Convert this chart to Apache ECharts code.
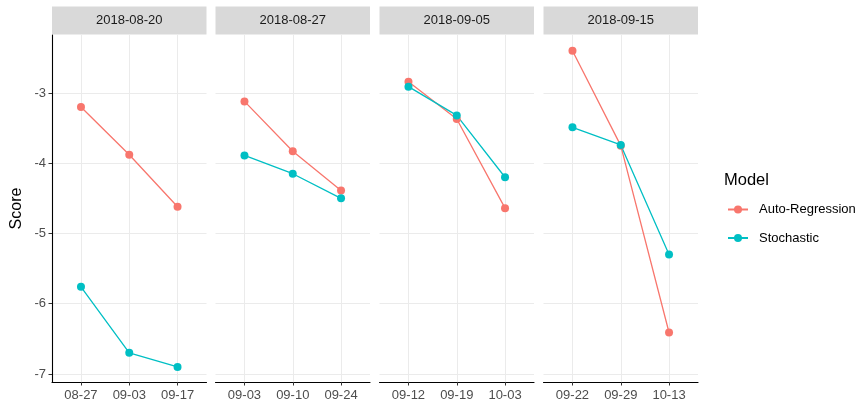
<!DOCTYPE html>
<html>
<head>
<meta charset="utf-8">
<script src="https://cdn.jsdelivr.net/npm/echarts@6/dist/echarts.min.js"></script>
<style>
  html, body { margin: 0; padding: 0; background: #fff; }
  #chart { width: 862px; height: 404px; }
</style>
</head>
<body>
<div id="chart"></div>
<script>
// facet titles (train dates) and x tick labels per facet
const panels = ['2018-08-20', '2018-08-27', '2018-09-05', '2018-09-15']
const xLabels = [
  ['08-27', '09-03', '09-17'],
  ['09-03', '09-10', '09-24'],
  ['09-12', '09-19', '10-03'],
  ['09-22', '09-29', '10-13']
]
const yTicks = [-7, -6, -5, -4, -3]

// scores per facet
const autoRegression = [
  [-3.20, -3.88, -4.62],
  [-3.12, -3.83, -4.39],
  [-2.84, -3.37, -4.64],
  [-2.40, -3.75, -6.41]
]
const stochastic = [
  [-5.76, -6.70, -6.90],
  [-3.89, -4.15, -4.50],
  [-2.91, -3.32, -4.20],
  [-3.49, -3.74, -5.30]
]

const FONT = '"Liberation Sans", Arial, sans-serif'
const COLORS = { 'Auto-Regression': '#F8766D', 'Stochastic': '#00BFC4' }

// layout of the facets
const panelLefts = [52, 215.5, 379.5, 543.5]
const panelWidth = 154.5
const panelTop = 35
const panelHeight = 347

const chart = echarts.init(document.getElementById('chart'), null, { renderer: 'canvas' })

const grids = panelLefts.map(l => ({ left: l, top: panelTop, width: panelWidth, height: panelHeight }))

const xAxes = panels.map((p, i) => ({
  type: 'value',
  gridIndex: i,
  min: 0.4,
  max: 3.6,
  axisLine: { show: true, onZero: false, lineStyle: { color: '#000', width: 1.1 } },
  axisTick: { show: true, length: 3.5, customValues: [1, 2, 3], lineStyle: { color: '#333' } },
  axisLabel: {
    customValues: [1, 2, 3],
    formatter: v => xLabels[i][Math.round(v) - 1],
    color: '#4D4D4D',
    fontSize: 13,
    fontFamily: FONT,
    margin: 7
  },
  splitLine: { show: true, lineStyle: { color: '#EBEBEB', width: 1 } }
}))

const yAxes = panels.map((p, i) => ({
  type: 'value',
  gridIndex: i,
  min: -7.115,
  max: -2.175,
  axisLine: { show: i === 0, onZero: false, lineStyle: { color: '#000', width: 1.1 } },
  axisTick: { show: i === 0, length: 3.5, customValues: yTicks, lineStyle: { color: '#333' } },
  axisLabel: {
    show: i === 0,
    customValues: yTicks,
    color: '#4D4D4D',
    fontSize: 13,
    fontFamily: FONT,
    margin: 6
  },
  splitLine: { show: true, lineStyle: { color: '#EBEBEB', width: 1 } },
  name: i === 0 ? 'Score' : '',
  nameLocation: 'middle',
  nameRotate: 90,
  nameGap: 27,
  nameTextStyle: { color: '#000', fontSize: 16, fontFamily: FONT }
}))

const series = []
panels.forEach((p, i) => {
  [['Auto-Regression', autoRegression], ['Stochastic', stochastic]].forEach(([name, arr]) => {
    series.push({
      name,
      type: 'line',
      xAxisIndex: i,
      yAxisIndex: i,
      data: arr[i].map((v, k) => [k + 1, v]),
      symbol: 'circle',
      symbolSize: 8,
      lineStyle: { color: COLORS[name], width: 1.3 },
      itemStyle: { color: COLORS[name] },
      emphasis: { disabled: true },
      animation: false
    })
  })
})

// facet strips
const strips = []
panels.forEach((p, i) => {
  strips.push({
    type: 'rect',
    shape: { x: panelLefts[i], y: 6.5, width: panelWidth, height: 28 },
    style: { fill: '#D9D9D9' }
  })
  strips.push({
    type: 'text',
    x: panelLefts[i] + panelWidth / 2,
    y: 20.5,
    style: {
      text: p,
      fill: '#1A1A1A',
      font: '13px ' + FONT,
      textAlign: 'center',
      textVerticalAlign: 'middle'
    }
  })
})
strips.push({
  type: 'text',
  left: 724,
  top: 172,
  style: { text: 'Model', fill: '#000', font: '16.5px ' + FONT }
})

chart.setOption({
  animation: false,
  grid: grids,
  xAxis: xAxes,
  yAxis: yAxes,
  legend: {
    data: ['Auto-Regression', 'Stochastic'],
    orient: 'vertical',
    left: 727,
    top: 203,
    itemWidth: 20,
    itemHeight: 10,
    itemGap: 15.5,
    padding: 0,
    selectedMode: false,
    textStyle: { color: '#000', fontSize: 13, fontFamily: FONT, padding: [0, 0, 0, 6] }
  },
  graphic: strips,
  series
})
</script>
</body>
</html>
